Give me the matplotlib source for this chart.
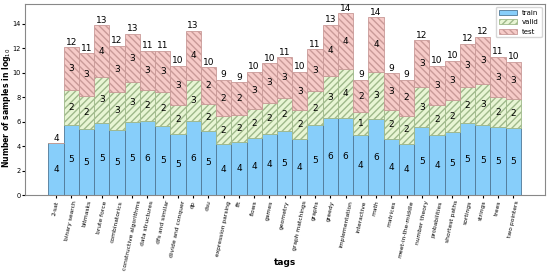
import numpy as np
import matplotlib
matplotlib.use("Agg")
import matplotlib.pyplot as plt

tags = ["2-sat", "binary search", "bitmasks", "brute force", "combinatorics",
        "constructive algorithms", "data structures", "dfs and similar",
        "divide and conquer", "dp", "dsu", "expression parsing", "fft", "flows",
        "games", "geometry", "graph matchings", "graphs", "greedy",
        "implementation", "interactive", "math", "matrices", "meet-in-the-middle",
        "number theory", "probabilities", "shortest paths", "sortings", "strings",
        "trees", "two pointers"]

# log10 sample counts per split
train = [4.24, 5.76, 5.38, 5.92, 5.35, 5.95, 6.03, 5.68, 5.03, 6.02, 5.27,
         4.16, 4.38, 4.67, 4.97, 5.22, 4.57, 5.71, 6.28, 6.28, 4.89, 6.20,
         4.57, 4.16, 5.54, 4.89, 5.14, 5.87, 5.71, 5.54, 5.49]
valid = [0.0, 2.80, 2.75, 3.70, 3.05, 3.26, 2.53, 2.72, 2.36, 3.38, 2.20,
         2.28, 2.14, 2.34, 2.58, 2.69, 2.36, 2.77, 3.42, 4.02, 1.88, 3.83,
         2.36, 2.32, 3.26, 2.50, 2.60, 2.93, 3.34, 2.45, 2.34]
test = [0.0, 3.51, 3.45, 4.24, 3.77, 3.94, 3.21, 3.37, 3.15, 4.02, 2.96,
        2.96, 2.69, 3.04, 3.21, 3.34, 3.12, 3.42, 4.19, 4.54, 2.63, 4.47,
        3.00, 2.95, 3.84, 3.15, 3.21, 3.54, 3.88, 3.29, 3.04]

train = np.array(train)
valid = np.array(valid)
test = np.array(test)
x = np.arange(len(tags))

fig, ax = plt.subplots(figsize=(5.5, 2.75), dpi=100)
fig.subplots_adjust(left=0.045, right=0.99, top=0.985, bottom=0.29)

ax.bar(x, train, width=1, color="#87cefa", edgecolor="#4f7896",
       linewidth=0.6, label="train")
ax.bar(x, valid, width=1, bottom=train, color="#e8f5d4",
       edgecolor="#9fb98a", hatch="/////", linewidth=0.6, label="valid")
ax.bar(x, test, width=1, bottom=train + valid, color="#f6cbc8",
       edgecolor="#c99a98", hatch="\\\\\\\\\\", linewidth=0.6, label="test")

# segment labels (truncated to int)
for bottom, vals in [(np.zeros_like(train), train), (train, valid),
                     (train + valid, test)]:
    for i, v in enumerate(vals):
        if v > 0:
            ax.text(x[i], bottom[i] + v / 2, str(int(v)), ha="center",
                    va="center", fontsize=6.5)

total = train + valid + test
for i, t in enumerate(total):
    ax.text(x[i], t + 0.05, str(int(t)), ha="center", va="bottom", fontsize=6.5)

ax.set_xticks(x)
ax.set_xticklabels(tags, rotation=78, fontsize=4.3)
ax.tick_params(axis="y", labelsize=4.8, length=2, pad=1)
ax.tick_params(axis="x", length=2, pad=1.5)
ax.set_yticks(range(0, 15, 2))
ax.set_xlabel("tags", fontsize=6.5, fontweight="bold")
ax.xaxis.set_label_coords(0.5, -0.33)
ax.set_ylabel("Number of samples in log$_{10}$", fontsize=5.6, fontweight="bold")
ax.yaxis.set_label_coords(-0.022, 0.46)
ax.legend(loc="upper right", fontsize=5, borderaxespad=0.4, handlelength=2.6)
for s in ax.spines.values():
    s.set_color("#888888")

fig.savefig("out.png", dpi=100)
